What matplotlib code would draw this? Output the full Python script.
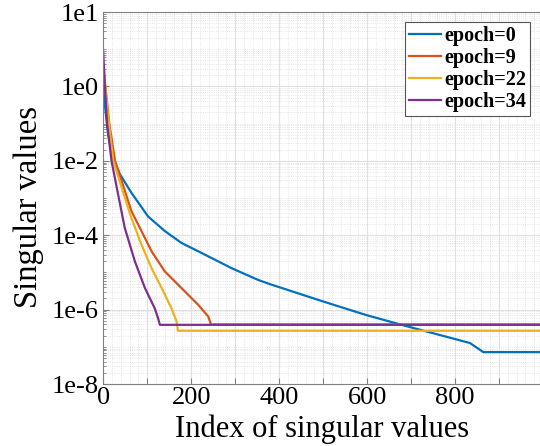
import numpy as np
import matplotlib as mpl
import matplotlib.pyplot as plt
from matplotlib.ticker import MultipleLocator, FixedLocator, LogLocator, NullFormatter

mpl.rcParams['font.family'] = ['Liberation Serif', 'DejaVu Serif']

# singular values (index, value)
idx_e0 = [0, 3, 11, 20, 38, 64, 102, 140, 178, 216, 254, 292, 352, 380, 497, 597, 693, 793, 834, 864, 1000]
sv_e0 = [1.0, 0.4, 0.054, 0.014, 4.4e-3, 1.4e-3, 3.2e-4, 1.3e-4, 6.2e-5, 3.7e-5, 2.2e-5, 1.3e-5,
         6.3e-6, 4.8e-6, 1.7e-6, 7.2e-7, 3.5e-7, 1.7e-7, 1.26e-7, 7.2e-8, 7.2e-8]

idx_e9 = [0, 5, 14, 27, 42, 64, 87, 110, 140, 178, 216, 239, 245, 1000]
sv_e9 = [3.2, 1.0, 0.1, 0.01, 2.9e-3, 4.5e-4, 1.3e-4, 3.7e-5, 1.07e-5, 3.8e-6, 1.35e-6, 6.5e-7, 4.0e-7, 4.0e-7]

idx_e22 = [0, 5, 13, 23, 42, 64, 87, 110, 133, 155, 167, 170, 1000]
sv_e22 = [5.0, 1.0, 0.1, 0.01, 1.9e-3, 2.95e-4, 5.6e-5, 1.3e-5, 3.8e-6, 1.1e-6, 4.8e-7, 2.7e-7, 2.7e-7]

idx_e34 = [0, 4, 9, 19, 34, 49, 72, 95, 117, 125, 129, 1000]
sv_e34 = [8.3, 1.0, 0.1, 0.01, 1.26e-3, 1.6e-4, 2.0e-5, 3.8e-6, 1.1e-6, 5.8e-7, 3.9e-7, 3.9e-7]

labels = ['epoch=0', 'epoch=9', 'epoch=22', 'epoch=34']
colors = ['#0072BD', '#D95319', '#EDB120', '#7E2F8E']

ytick_vals = [1e-8, 1e-6, 1e-4, 1e-2, 1e0, 1e2]
ytick_labels = ['1e-8', '1e-6', '1e-4', '1e-2', '1e0', '1e1']
xtick_vals = np.arange(0, 1000, 100)

fig = plt.figure(figsize=(5.4, 4.46), dpi=100)
ax = fig.add_axes([0.191, 0.139, 0.809, 0.834])

for x, y, c, l in zip([idx_e0, idx_e9, idx_e22, idx_e34], [sv_e0, sv_e9, sv_e22, sv_e34], colors, labels):
    ax.plot(x, y, color=c, lw=1.6, label=l)

ax.set_yscale('log')
ax.set_xlim(0, 993)
ax.set_ylim(1e-8, 1e2)

ax.yaxis.set_major_locator(FixedLocator(ytick_vals))
ax.set_yticklabels(ytick_labels)
ax.yaxis.set_minor_locator(LogLocator(base=10, subs=np.arange(1, 10), numticks=50))
ax.yaxis.set_minor_formatter(NullFormatter())

ax.set_xticks(xtick_vals)
ax.set_xticklabels([str(v) if v % 200 == 0 and v <= 800 else '' for v in xtick_vals])
ax.xaxis.set_minor_locator(MultipleLocator(20))

ax.grid(which='major', color='#e0e0e0', lw=0.8, ls='-')
ax.grid(which='minor', color='#dddddd', lw=0.6, ls=':')
ax.set_axisbelow(True)

ax.tick_params(which='both', direction='in', labelsize=19, colors='#000000', pad=3)
ax.tick_params(which='major', length=4, color='#808080')
ax.tick_params(which='minor', length=2, color='#808080')
ax.tick_params(axis='x', which='minor', length=0)
ax.tick_params(axis='x', pad=2)
for s in ax.spines.values():
    s.set_color('#808080')
    s.set_linewidth(0.8)

ax.set_xlabel('Index of singular values', fontsize=22, labelpad=4)
ax.set_ylabel('Singular values', fontsize=23.5)
ax.yaxis.set_label_coords(-0.135, 0.475)

leg = ax.legend(loc='upper right', prop={'weight': 'bold', 'size': 14.5},
                handlelength=1.6, handletextpad=0.15, labelspacing=0.1,
                borderpad=0.2, borderaxespad=0.5, fancybox=False, framealpha=1)
leg.get_frame().set_edgecolor('#555555')
leg.get_frame().set_linewidth(0.8)

fig.savefig('out.png', dpi=100)
